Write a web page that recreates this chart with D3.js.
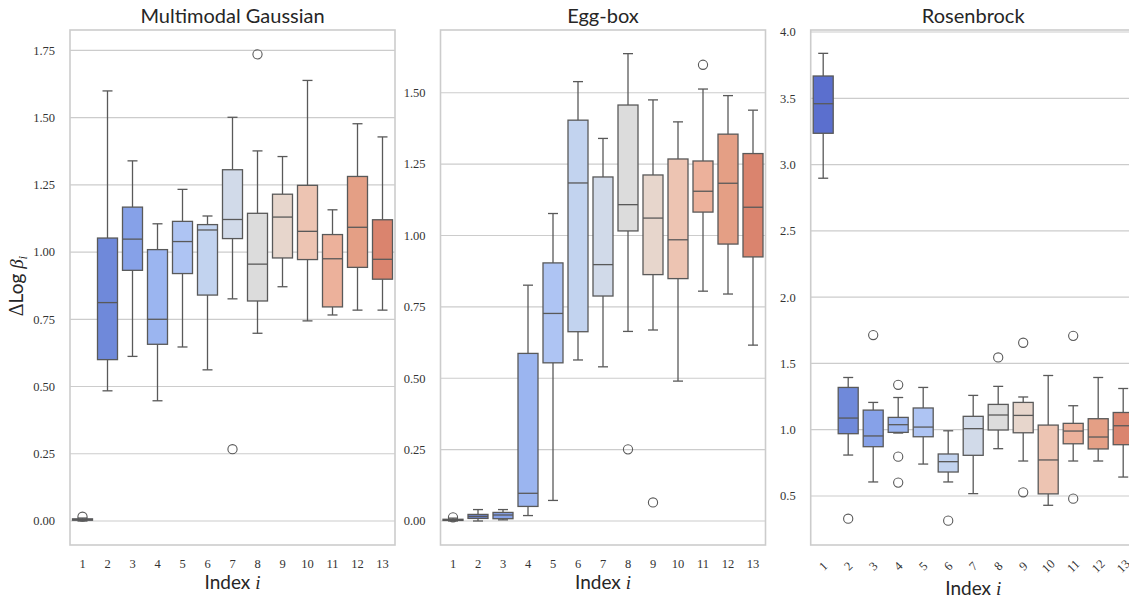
<!DOCTYPE html>
<html>
<head>
<meta charset="utf-8">
<script src="https://cdn.jsdelivr.net/npm/d3@7"></script>
<style>
  body { margin: 0; background: #fff; }
  svg { display: block; }
  .tick-label { font-family: "Liberation Serif", serif; font-size: 12.5px; fill: #333; }
  .title { font-family: "Lato", sans-serif; font-size: 20px; fill: #262626; }
  .axis-label { font-family: "Lato", sans-serif; font-size: 19px; fill: #262626; }
</style>
</head>
<body>
<svg id="chart" width="1129" height="600"></svg>
<script>
// index labels on the x axis
var indices = ["1", "2", "3", "4", "5", "6", "7", "8", "9", "10", "11", "12", "13"];

// box colours (seaborn coolwarm, desaturated)
var boxColors = ["#5b6fce", "#6f89da", "#86a1e8", "#9bb5f0", "#aec4f3", "#c2d3ef", "#d1dae9",
                 "#dcdcdc", "#e7d6cc", "#edc4b2", "#ecb19b", "#e49f85", "#da846e"];

// [whisker low, q1, median, q3, whisker high] per index
var gaussianStats = [
  [0.000, 0.003, 0.005, 0.008, 0.011],
  [0.484, 0.600, 0.812, 1.052, 1.599],
  [0.612, 0.932, 1.048, 1.167, 1.339],
  [0.447, 0.657, 0.750, 1.009, 1.105],
  [0.647, 0.920, 1.039, 1.114, 1.233],
  [0.562, 0.840, 1.082, 1.102, 1.134],
  [0.826, 1.050, 1.121, 1.306, 1.501],
  [0.698, 0.818, 0.955, 1.144, 1.376],
  [0.871, 0.978, 1.130, 1.215, 1.355],
  [0.744, 0.972, 1.077, 1.248, 1.638],
  [0.766, 0.796, 0.975, 1.065, 1.157],
  [0.784, 0.943, 1.092, 1.281, 1.477],
  [0.784, 0.899, 0.973, 1.120, 1.428]
];
// [index, value]
var gaussianOutliers = [[1, 0.016], [7, 0.267], [8, 1.735]];

var eggboxStats = [
  [0.000, 0.002, 0.004, 0.006, 0.010],
  [0.000, 0.009, 0.016, 0.023, 0.040],
  [0.004, 0.008, 0.021, 0.030, 0.040],
  [0.019, 0.051, 0.097, 0.587, 0.826],
  [0.072, 0.554, 0.727, 0.904, 1.077],
  [0.564, 0.663, 1.184, 1.404, 1.539],
  [0.540, 0.788, 0.898, 1.205, 1.340],
  [0.664, 1.016, 1.108, 1.457, 1.637],
  [0.669, 0.863, 1.061, 1.212, 1.475],
  [0.490, 0.849, 0.985, 1.268, 1.398],
  [0.805, 1.082, 1.155, 1.261, 1.513],
  [0.795, 0.970, 1.183, 1.355, 1.490],
  [0.616, 0.925, 1.099, 1.287, 1.439]
];
var eggboxOutliers = [[1, 0.013], [8, 0.251], [9, 0.065], [11, 1.598]];

var rosenbrockStats = [
  [2.897, 3.236, 3.459, 3.668, 3.839],
  [0.809, 0.970, 1.088, 1.319, 1.394],
  [0.606, 0.872, 0.953, 1.148, 1.206],
  [0.975, 0.980, 1.038, 1.093, 1.243],
  [0.741, 0.947, 1.020, 1.164, 1.319],
  [0.606, 0.681, 0.759, 0.817, 0.992],
  [0.518, 0.807, 1.008, 1.101, 1.259],
  [0.857, 0.998, 1.111, 1.191, 1.327],
  [0.764, 0.977, 1.108, 1.206, 1.247],
  [0.430, 0.516, 0.772, 1.035, 1.409],
  [0.764, 0.894, 0.990, 1.048, 1.181],
  [0.764, 0.855, 0.945, 1.083, 1.394],
  [0.643, 0.887, 1.030, 1.130, 1.311]
];
var rosenbrockOutliers = [[2, 0.329], [3, 1.714], [4, 1.339], [4, 0.797], [4, 0.601], [6, 0.314],
                          [8, 1.545], [9, 1.656], [9, 0.528], [11, 1.708], [11, 0.480]];

var gaussianTicks = [0, 0.25, 0.5, 0.75, 1.0, 1.25, 1.5, 1.75];
var eggboxTicks = [0, 0.25, 0.5, 0.75, 1.0, 1.25, 1.5];
var rosenbrockTicks = [0.5, 1.0, 1.5, 2.0, 2.5, 3.0, 3.5, 4.0];

var panels = [
  { title: "Multimodal Gaussian", stats: gaussianStats, outliers: gaussianOutliers, ticks: gaussianTicks,
    fmt: d3.format(".2f"), domain: [-0.0892, 1.8255], left: 70, rotate: false, ylabel: true },
  { title: "Egg-box", stats: eggboxStats, outliers: eggboxOutliers, ticks: eggboxTicks,
    fmt: d3.format(".2f"), domain: [-0.0841, 1.7198], left: 440.5, rotate: false, ylabel: false },
  { title: "Rosenbrock", stats: rosenbrockStats, outliers: rosenbrockOutliers, ticks: rosenbrockTicks,
    fmt: d3.format(".1f"), domain: [0.1305, 4.015], left: 810.7, rotate: true, ylabel: false }
];

var svg = d3.select("#chart"),
  panelWidth = 325,
  plotTop = 30,
  plotBottom = 545,
  gridColor = "#cccccc",
  lineColor = "#595959";

panels.forEach(function(p) {
  var g = svg.append("g");
  var x = d3.scaleBand().domain(indices).range([p.left, p.left + panelWidth]).paddingInner(0).paddingOuter(0);
  var y = d3.scaleLinear().domain(p.domain).range([plotBottom, plotTop]);
  var bw = x.bandwidth() * 0.8;

  //horizontal grid lines
  g.selectAll("line.grid").data(p.ticks).enter().append("line")
    .attr("class", "grid")
    .attr("x1", p.left).attr("x2", p.left + panelWidth)
    .attr("y1", function(d) { return y(d); }).attr("y2", function(d) { return y(d); })
    .attr("stroke", gridColor).attr("stroke-width", 1.2);

  //y tick labels
  g.selectAll("text.ytick").data(p.ticks).enter().append("text")
    .attr("class", "tick-label")
    .attr("x", p.left - 15).attr("y", function(d) { return y(d); })
    .attr("dy", "0.35em")
    .style("text-anchor", "end")
    .text(function(d) { return p.fmt(d); });

  //boxes
  var boxes = g.selectAll("g.box").data(p.stats).enter().append("g").attr("class", "box");
  boxes.each(function(s, i) {
    var b = d3.select(this),
      cx = x(indices[i]) + x.bandwidth() / 2;
    //whiskers
    b.append("line").attr("x1", cx).attr("x2", cx).attr("y1", y(s[0])).attr("y2", y(s[1]))
      .attr("stroke", lineColor).attr("stroke-width", 1.3);
    b.append("line").attr("x1", cx).attr("x2", cx).attr("y1", y(s[3])).attr("y2", y(s[4]))
      .attr("stroke", lineColor).attr("stroke-width", 1.3);
    //caps
    [s[0], s[4]].forEach(function(v) {
      b.append("line").attr("x1", cx - bw / 4).attr("x2", cx + bw / 4).attr("y1", y(v)).attr("y2", y(v))
        .attr("stroke", lineColor).attr("stroke-width", 1.3);
    });
    //box
    b.append("rect")
      .attr("x", cx - bw / 2).attr("width", bw)
      .attr("y", y(s[3])).attr("height", Math.max(y(s[1]) - y(s[3]), 0.5))
      .attr("fill", boxColors[i]).attr("stroke", lineColor).attr("stroke-width", 1.3);
    //median
    b.append("line").attr("x1", cx - bw / 2).attr("x2", cx + bw / 2).attr("y1", y(s[2])).attr("y2", y(s[2]))
      .attr("stroke", lineColor).attr("stroke-width", 1.3);
  });

  //fliers
  g.selectAll("circle.flier").data(p.outliers).enter().append("circle")
    .attr("class", "flier")
    .attr("cx", function(d) { return x(indices[d[0] - 1]) + x.bandwidth() / 2; })
    .attr("cy", function(d) { return y(d[1]); })
    .attr("r", 4.6)
    .attr("fill", "none").attr("stroke", lineColor).attr("stroke-width", 1.1);

  //frame
  g.append("rect")
    .attr("x", p.left).attr("y", plotTop).attr("width", panelWidth).attr("height", plotBottom - plotTop)
    .attr("fill", "none").attr("stroke", gridColor).attr("stroke-width", 1.6);

  //x tick labels
  var xt = g.selectAll("text.xtick").data(indices).enter().append("text")
    .attr("class", "tick-label")
    .text(function(d) { return d; });
  if (p.rotate) {
    xt.attr("x", function(d) { return x(d) + x.bandwidth() / 2; })
      .attr("y", 566)
      .attr("dy", "0.35em")
      .style("text-anchor", "middle")
      .attr("transform", function(d) { return "rotate(-45," + (x(d) + x.bandwidth() / 2) + ",566)"; });
  } else {
    xt.attr("x", function(d) { return x(d) + x.bandwidth() / 2; })
      .attr("y", 568)
      .style("text-anchor", "middle");
  }

  //title
  g.append("text").attr("class", "title")
    .attr("x", p.left + panelWidth / 2).attr("y", 23)
    .style("text-anchor", "middle")
    .text(p.title);

  //x axis label
  var xl = g.append("text").attr("class", "axis-label")
    .attr("x", p.left + panelWidth / 2).attr("y", p.rotate ? 595 : 589)
    .style("text-anchor", "middle");
  xl.append("tspan").text("Index ");
  xl.append("tspan").style("font-family", "Liberation Serif, serif").style("font-style", "italic").text("i");

  //y axis label
  if (p.ylabel) {
    var yl = g.append("text").attr("class", "axis-label")
      .attr("transform", "translate(23,286) rotate(-90)")
      .style("text-anchor", "middle");
    yl.append("tspan").style("font-family", "Liberation Serif, serif").style("font-size", "20px").text("\u0394");
    yl.append("tspan").text("Log ");
    yl.append("tspan").style("font-family", "Liberation Serif, serif").style("font-style", "italic").text("\u03b2");
    yl.append("tspan").style("font-family", "Liberation Serif, serif").style("font-style", "italic")
      .style("font-size", "13px").attr("dy", 4).text("i");
  }
});
</script>
</body>
</html>
